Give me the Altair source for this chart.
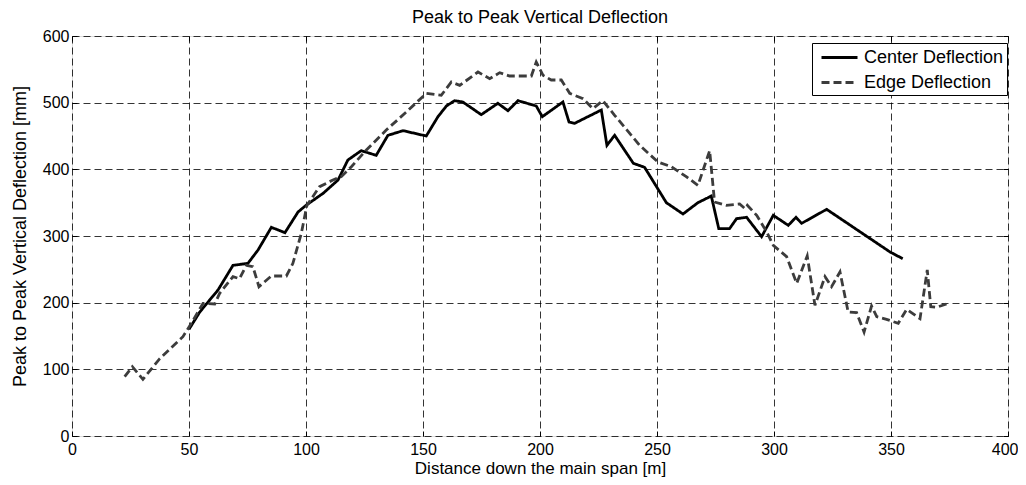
import altair as alt
import pandas as pd

# ---- data ----
center_x = [50, 54.6, 62.4, 68.8, 75.2, 79.5, 85.2, 91, 96.6, 100, 107.3, 113.7, 117.9, 123.6, 130,
            135, 141.5, 151.4, 156.4, 160, 163.5, 167, 174.9, 182, 186.3, 190.6, 198.4, 201, 209.8,
            212.4, 214.8, 226.2, 228.6, 231.9, 239.9, 244.7, 254, 261.1, 267.5, 273.2, 276.4, 281,
            284, 288.3, 294.7, 299.7, 306.1, 309.4, 311.8, 322.5, 349.6, 355]
center_y = [160, 186, 219, 256, 259, 279, 313, 305, 336, 346, 364, 384, 414, 428, 421,
            451, 458, 450, 479, 495, 503, 501, 482, 499, 488, 503, 495, 479, 501,
            471, 469, 489, 436, 451, 409, 403, 350, 333, 350, 360, 311, 311,
            326, 328, 299, 331, 316, 328, 319, 340, 276, 266]

edge_x = [22.5, 25.8, 30.3, 37.5, 47.4, 51, 56, 61, 63.1, 68.8, 71.6, 74.5, 77.3, 79.9, 85.2,
          91.6, 94.4, 98, 100.4, 105.8, 111.5, 115.1, 119.4, 125.8, 134.3, 142.9, 151.4, 157.8,
          162.1, 165.7, 173.5, 178.5, 182.8, 187, 196.3, 198.4, 201.3, 204.8, 209.1, 212.7,
          218.4, 222.6, 226.9, 231.9, 242.6, 250.4, 256.1, 262.5, 267.5, 272.5, 274.6, 279.6,
          285.3, 287.6, 288.6, 292.6, 296.9, 299.7, 305.4, 309.7, 314.2, 317.5, 321.8, 324.6,
          328.2, 331.7, 335.3, 338.5, 341.7, 343.9, 348.1, 353.1, 356.7, 362.4, 365.5, 367,
          369.5, 374.5]
edge_y = [89, 104, 85, 116, 149, 169, 199, 198, 214, 239, 236, 256, 254, 224, 240,
          240, 259, 304, 346, 374, 384, 389, 404, 429, 459, 486, 514, 511,
          531, 526, 546, 536, 545, 540, 540, 561, 541, 534, 534, 514,
          506, 491, 503, 481, 436, 411, 404, 389, 376, 428, 351, 346,
          348, 341, 346, 331, 306, 286, 269, 229, 270, 196, 239, 224,
          246, 186, 185, 156, 195, 179, 175, 169, 190, 176, 249, 194,
          193, 199]

series_names = ["Center Deflection", "Edge Deflection"]
x_ticks = [0, 50, 100, 150, 200, 250, 300, 350, 400]
y_ticks = [0, 100, 200, 300, 400, 500, 600]

df = pd.concat([
    pd.DataFrame({"x": center_x, "y": center_y, "series": series_names[0],
                  "order": list(range(len(center_x)))}),
    pd.DataFrame({"x": edge_x, "y": edge_y, "series": series_names[1],
                  "order": list(range(len(edge_x)))}),
], ignore_index=True)

FONT = "Liberation Sans"
xscale = alt.Scale(domain=[0, 400], nice=False, zero=False)
yscale = alt.Scale(domain=[0, 600], nice=False)

legend_kw = dict(title=None, orient="none", legendX=740, legendY=7,
                 strokeColor="#000000", fillColor="#ffffff", padding=3,
                 symbolType="M-1.8,0H1.8", symbolSize=400, symbolStrokeWidth=2.8,
                 symbolOffset=13, labelOffset=13, labelFont=FONT, labelFontSize=18,
                 labelColor="#000000", rowPadding=4)

lines = alt.Chart(df).mark_line(strokeWidth=2.8).encode(
    x=alt.X("x:Q", scale=xscale,
            axis=alt.Axis(title="Distance down the main span [m]", values=x_ticks,
                          grid=True, gridDash=[7, 4], gridColor="#000000", gridWidth=0.8,
                          gridOpacity=1, domain=False, ticks=True, tickSize=5, offset=-5,
                          tickColor="#000000", tickWidth=1,
                          labelFont=FONT, labelFontSize=16, labelColor="#000000",
                          labelPadding=5, titleFont=FONT, titleFontSize=17,
                          titleFontWeight="normal", titleColor="#000000", titlePadding=3,
                          labelFlush=False,
                          labelAlign=alt.ExprRef("datum.value == 400 ? 'right' : 'center'"),
                          labelOffset=alt.ExprRef("datum.value == 400 ? 10 : 0"))),
    y=alt.Y("y:Q", scale=yscale,
            axis=alt.Axis(title="Peak to Peak Vertical Deflection [mm]", values=y_ticks,
                          grid=True, gridDash=[7, 4], gridColor="#000000", gridWidth=0.8,
                          gridOpacity=1, domain=False, ticks=True, tickSize=5, offset=-5,
                          tickColor="#000000", tickWidth=1,
                          labelFont=FONT, labelFontSize=16, labelColor="#000000",
                          labelPadding=3, titleFont=FONT, titleFontSize=18,
                          titleFontWeight="normal", titleColor="#000000", titlePadding=13,
                          labelFlush=False)),
    color=alt.Color("series:N",
                    scale=alt.Scale(domain=series_names, range=["#000000", "#3c3c3c"]),
                    legend=alt.Legend(**legend_kw)),
    strokeDash=alt.StrokeDash("series:N",
                              scale=alt.Scale(domain=series_names, range=[[1, 0], [8, 4]]),
                              legend=alt.Legend(**legend_kw)),
    order="order:Q",
)

ticks_tr = alt.Chart(df).mark_point(opacity=0).encode(
    x=alt.X("x:Q", scale=xscale,
            axis=alt.Axis(orient="top", title=None, values=x_ticks, labels=False,
                          domain=False, grid=False, ticks=True, tickSize=5, offset=-5,
                          tickColor="#000000", tickWidth=1)),
    y=alt.Y("y:Q", scale=yscale,
            axis=alt.Axis(orient="right", title=None, values=y_ticks, labels=False,
                          domain=False, grid=False, ticks=True, tickSize=5, offset=-5,
                          tickColor="#000000", tickWidth=1)),
)

chart = alt.layer(lines, ticks_tr).resolve_axis(x="independent", y="independent").properties(
    width=936, height=400,
    title=alt.TitleParams("Peak to Peak Vertical Deflection", font=FONT, fontSize=18,
                          fontWeight="normal", color="#000000", anchor="middle",
                          frame="group", offset=1),
    autosize=alt.AutoSizeParams(type="none"),
    padding={"left": 64, "top": 28, "right": 10, "bottom": 41},
).configure_view(stroke="#000000", strokeWidth=1.2).configure(background="#ffffff")

chart.save("out.html", embed_options={"renderer": "svg", "actions": False})
